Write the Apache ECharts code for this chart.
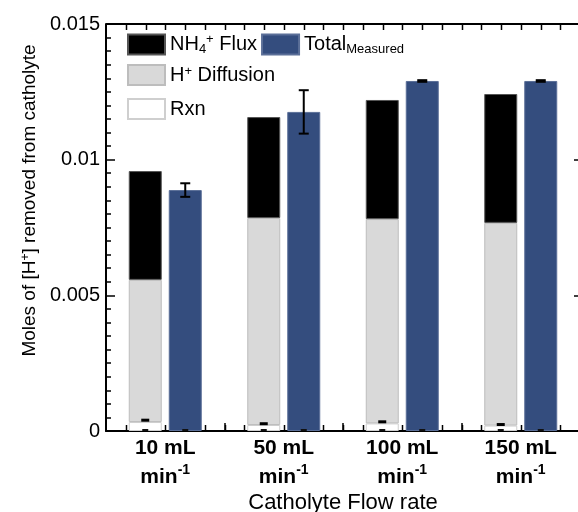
<!DOCTYPE html>
<html>
<head>
<meta charset="utf-8">
<script src="https://cdn.jsdelivr.net/npm/echarts@6/dist/echarts.min.js"></script>
<style>
  html, body { margin: 0; padding: 0; background: #fff; }
  #chart { width: 578px; height: 512px; }
</style>
</head>
<body>
<div id="chart"></div>
<script>
// data
var categories = ['10 mL', '50 mL', '100 mL', '150 mL'];
var rxn = [0.00033, 0.00022, 0.00028, 0.0002];
var rxnErr = [0.00005, 0.00003, 0.00004, 0.00002];
var diffusion = [0.00524, 0.00763, 0.00753, 0.00747];
var nh4Flux = [0.00401, 0.00372, 0.00439, 0.00475];
var totalMeasured = [0.00888, 0.01176, 0.0129, 0.0129];
var totalErr = [0.00025, 0.0008, 0.00003, 0.00003];
var yTicks = [0, 0.005, 0.01, 0.015];
var ticksPerCategory = 6;   // small ticks along the top / bottom frame

var BAR_W = 33, BAR_GAP = 7;
var halfStep = (BAR_W + BAR_GAP) / 2;
var FONT = '"Liberation Sans", Arial, sans-serif';
var Y_MAX = yTicks[yTicks.length - 1];

var chart = echarts.init(document.getElementById('chart'));

// error bar for the measured totals (right bar of each pair)
function totalErrItem(params, api) {
  var i = api.value(0);
  var top = api.coord([i, api.value(1) + api.value(2)]);
  var bot = api.coord([i, api.value(1) - api.value(2)]);
  var zero = api.coord([i, 0]);
  var x = top[0] + halfStep;
  var st = { stroke: '#000', lineWidth: 2 };
  return {
    type: 'group',
    children: [
      { type: 'line', shape: { x1: x, y1: top[1], x2: x, y2: bot[1] }, style: st },
      { type: 'line', shape: { x1: x - 5, y1: top[1], x2: x + 5, y2: top[1] }, style: st },
      { type: 'line', shape: { x1: x - 5, y1: bot[1], x2: x + 5, y2: bot[1] }, style: st },
      { type: 'rect', shape: { x: x - 3, y: zero[1] - 2, width: 6, height: 2 }, style: { fill: '#111' } }
    ]
  };
}

// small caps for the Rxn part (left bar of each pair)
function rxnErrItem(params, api) {
  var i = api.value(0);
  var top = api.coord([i, api.value(1) + api.value(2)]);
  var zero = api.coord([i, 0]);
  var x = top[0] - halfStep;
  return {
    type: 'group',
    children: [
      { type: 'rect', shape: { x: x - 4, y: top[1] - 2, width: 8, height: 3 }, style: { fill: '#000' } },
      { type: 'rect', shape: { x: x - 3, y: zero[1] - 2, width: 6, height: 2 }, style: { fill: '#111' } }
    ]
  };
}

var legendText = {
  fontFamily: FONT, fontSize: 20, color: '#000',
  rich: {
    sub: { fontFamily: FONT, fontSize: 13, verticalAlign: 'bottom', padding: [10, 0, 0, 0] },
    sup: { fontFamily: FONT, fontSize: 13, verticalAlign: 'top', padding: [0, 0, 8, 0] }
  }
};
var legendNames = {
  'NH4 Flux': 'NH{sub|4}{sup|+} Flux',
  'Total': 'Total{sub|Measured}',
  'H Diffusion': 'H{sup|+} Diffusion',
  'Rxn': 'Rxn'
};
function legendFmt(n) { return legendNames[n]; }

chart.setOption({
  animation: false,
  backgroundColor: '#fff',
  grid: { left: 106, right: -2, top: 24, bottom: 81, outerBoundsMode: 'none', containLabel: false },
  legend: [
    { data: ['NH4 Flux', 'Total'], left: 127, top: 33, itemWidth: 37, itemHeight: 20, itemGap: 4,
      icon: 'rect', formatter: legendFmt, textStyle: legendText, selectedMode: false, padding: 0 },
    { data: ['H Diffusion'], left: 127, top: 64, itemWidth: 37, itemHeight: 20,
      icon: 'rect', formatter: legendFmt, textStyle: legendText, selectedMode: false, padding: 0 },
    { data: ['Rxn'], left: 127, top: 98, itemWidth: 37, itemHeight: 20,
      icon: 'rect', formatter: legendFmt, textStyle: legendText, selectedMode: false, padding: 0 }
  ],
  xAxis: {
    type: 'category', data: categories, position: 'bottom',
    axisLine: { onZero: false, lineStyle: { color: '#000', width: 2 } },
    axisTick: { show: true, inside: true, length: 8, lineStyle: { color: '#000', width: 1.5 } },
    axisLabel: {
      interval: 0, margin: 3, color: '#000', fontFamily: FONT, fontSize: 21, fontWeight: 'bold', lineHeight: 29,
      formatter: function (v) { return v + '\nmin{sup|-1}'; },
      rich: { sup: { fontFamily: FONT, fontSize: 14, fontWeight: 'bold', verticalAlign: 'top', padding: [0, 0, 10, 0] } }
    },
    name: 'Catholyte Flow rate', nameLocation: 'middle', nameGap: 61, nameMoveOverlap: false,
    nameTextStyle: { color: '#000', fontFamily: FONT, fontSize: 22 }
  },
  yAxis: [
    {
      type: 'value', min: yTicks[0], max: Y_MAX, interval: 0.005,
      axisLine: { show: true, onZero: false, lineStyle: { color: '#000', width: 2 } },
      axisTick: { show: true, inside: true, length: 9, lineStyle: { color: '#000', width: 1.5 } },
      minorTick: { show: true, splitNumber: 10, length: 5, lineStyle: { color: '#000', width: 1.5 } },
      splitLine: { show: false },
      axisLabel: {
        color: '#000', fontFamily: FONT, fontSize: 20, margin: 6,
        formatter: function (v) { return v === 0 ? '0' : String(+v.toFixed(3)); }
      },
      name: 'Moles of [H{sup|+}] removed from catholyte', nameLocation: 'middle', nameGap: 66,
      nameTextStyle: {
        color: '#000', fontFamily: FONT, fontSize: 19, padding: [0, 0, 0, 54],
        rich: { sup: { fontFamily: FONT, fontSize: 12, verticalAlign: 'top', padding: [0, 0, 8, 0] } }
      }
    },
    {
      type: 'value', min: yTicks[0], max: Y_MAX, interval: 0.005, position: 'right',
      axisLine: { show: true, onZero: false, lineStyle: { color: '#000', width: 2 } },
      axisTick: { show: true, inside: true, length: 6, lineStyle: { color: '#000', width: 1.5 } },
      axisLabel: { show: false }, splitLine: { show: false }
    }
  ],
  series: [
    { name: 'Rxn', type: 'bar', stack: 'parts', data: rxn, barWidth: BAR_W, barGap: (BAR_GAP / BAR_W * 100) + '%',
      itemStyle: { color: '#ffffff', borderColor: '#cfcfcf', borderWidth: 1 } },
    { name: 'H Diffusion', type: 'bar', stack: 'parts', data: diffusion, barWidth: BAR_W,
      itemStyle: { color: '#d9d9d9', borderColor: '#bdbdbd', borderWidth: 1 } },
    { name: 'NH4 Flux', type: 'bar', stack: 'parts', data: nh4Flux, barWidth: BAR_W,
      itemStyle: { color: '#000000', borderColor: '#555', borderWidth: 1 } },
    { name: 'Total', type: 'bar', data: totalMeasured, barWidth: BAR_W,
      itemStyle: { color: '#344d7e', borderColor: '#5b6f98', borderWidth: 1 } },
    { type: 'custom', name: 'totalErr', renderItem: totalErrItem, z: 5,
      data: totalMeasured.map(function (v, i) { return [i, v, totalErr[i]]; }) },
    { type: 'custom', name: 'rxnErr', renderItem: rxnErrItem, z: 5,
      data: rxn.map(function (v, i) { return [i, v, rxnErr[i]]; }) }
  ]
});

// frame: top edge line and small ticks on top and bottom, placed from the axes' own scales
var yTop = chart.convertToPixel({ yAxisIndex: 0 }, Y_MAX);
var yBot = chart.convertToPixel({ yAxisIndex: 0 }, 0);
var c0 = chart.convertToPixel({ xAxisIndex: 0 }, 0);
var c1 = chart.convertToPixel({ xAxisIndex: 0 }, 1);
var bw = c1 - c0;
var frameLeft = c0 - bw / 2;
var frameRight = frameLeft + bw * categories.length;
var frame = [{
  type: 'line', z: 100, silent: true,
  shape: { x1: frameLeft, y1: yTop, x2: frameRight, y2: yTop },
  style: { stroke: '#000', lineWidth: 2 }
}];
for (var k = 1; k < ticksPerCategory * categories.length; k++) {
  var tx = Math.round(frameLeft + bw * k / ticksPerCategory) + 0.5;
  frame.push({ type: 'line', z: 100, silent: true,
    shape: { x1: tx, y1: yTop, x2: tx, y2: yTop + 6 }, style: { stroke: '#000', lineWidth: 1.5 } });
  frame.push({ type: 'line', z: 0, silent: true,
    shape: { x1: tx, y1: yBot, x2: tx, y2: yBot - 6 }, style: { stroke: '#000', lineWidth: 1.5 } });
}
chart.setOption({ graphic: { elements: frame } });
</script>
</body>
</html>
